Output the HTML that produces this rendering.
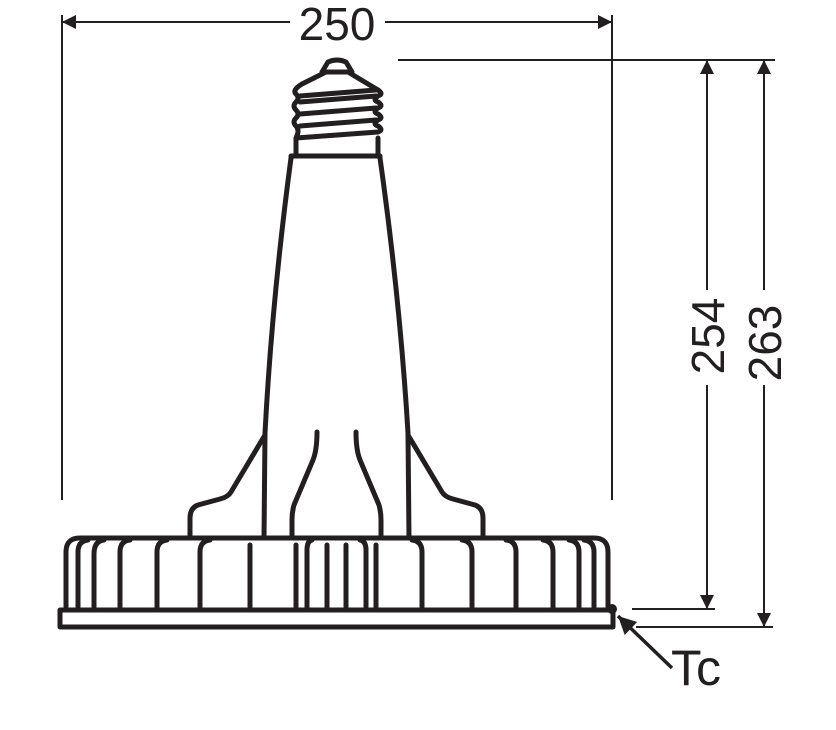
<!DOCTYPE html>
<html><head><style>html,body{margin:0;padding:0;background:#fff}svg{display:block}</style></head>
<body>
<svg width="836" height="730" viewBox="0 0 836 730" xmlns="http://www.w3.org/2000/svg">
<defs>
<marker id="b" viewBox="0 0 10 10" refX="10" refY="5" markerWidth="16" markerHeight="14" markerUnits="userSpaceOnUse" orient="auto-start-reverse"><path d="M0,0 L10,5 L0,10 z" fill="#231f20"/></marker>
<marker id="c" viewBox="0 0 10 10" refX="10" refY="5" markerWidth="22" markerHeight="18" markerUnits="userSpaceOnUse" orient="auto-start-reverse"><path d="M0,0 L10,5 L0,10 z" fill="#231f20"/></marker></defs>
<g stroke="#231f20" fill="none" stroke-width="2">
<line x1="62" y1="15" x2="62" y2="500"/>
<line x1="612" y1="15" x2="612" y2="500"/>
<line x1="62" y1="22" x2="290" y2="22" marker-start="url(#b)"/>
<line x1="385" y1="22" x2="612" y2="22" marker-end="url(#b)"/>
<line x1="398" y1="60" x2="775" y2="60"/>
<line x1="632" y1="609" x2="715" y2="609"/>
<line x1="636" y1="627" x2="773" y2="627"/>
<line x1="707" y1="60" x2="707" y2="290" marker-start="url(#b)"/>
<line x1="707" y1="385" x2="707" y2="609" marker-end="url(#b)"/>
<line x1="764" y1="60" x2="764" y2="290" marker-start="url(#b)"/>
<line x1="764" y1="385" x2="764" y2="627" marker-end="url(#b)"/>
<line x1="672" y1="668" x2="618" y2="616" stroke-width="3.5" marker-end="url(#c)"/>
</g>
<g stroke="#231f20" fill="none" stroke-width="5" stroke-linejoin="round" stroke-linecap="round">
<rect x="60" y="610" width="553" height="17"/>
<path d="M66,610 V552 Q66,538 80,538 H594 Q608,538 608,552 V610"/>
<path d="M78,610 V552 Q78,541 88,540 M94,610 V554 Q94,541 104,540 M120,610 V552 Q120,541 130,540 M157,610 V552 Q157,541 167,540 M200,610 V552 Q200,541 210,540 M250,610 V545 M296,610 V545 M307,610 V550 Q307,541 312,540 M327,610 V545 M346,610 V545 M366,610 V550 Q366,541 360,540 M376,610 V545 M422,610 V552 Q422,541 412,540 M472,610 V552 Q472,541 462,540 M516,610 V552 Q516,541 506,540 M553,610 V552 Q553,541 543,540 M579,610 V552 Q579,541 569,540 M594,610 V552 Q594,541 584,540"/>
<path d="M264,538 L265,433 Q272,300 291,158 M409,538 L408,433 Q400,300 380,158"/>
<path d="M265,435 L231,492 Q228,497 220,499 L198,505 Q190,508 190,518 V538"/>
<path d="M408,435 L442,492 Q445,497 453,499 L475,505 Q483,508 483,518 V538"/>
<path d="M317,432 Q317,450 313,460 L294,505 Q292,512 292,520 V538"/>
<path d="M356,432 Q356,450 360,460 L379,505 Q381,512 381,520 V538"/>
<path d="M291,158 V156 H380 V158 M296,156 V138 M378,156 V138"/>
<path d="M296,138 L378,132 Q384,130 378,126 Q372,124 378,120 Q384,118 378,114 Q372,112 378,108 Q384,106 378,102 Q372,100 378,96 Q384,94 378,90 L348,72 H326 L302,84 Q292,90 296,94 Q300,98 296,102 Q292,106 296,110 Q300,114 296,118 Q292,122 296,126 Q300,130 296,138 Z"/>
<path d="M300,102 L376,96 M300,114 L376,108 M300,126 L376,120 M300,96 L376,90"/>
<path d="M322,72 L328,62 Q337,58 346,62 L352,72"/>
</g>
<circle cx="612" cy="609" r="5" fill="#231f20"/>
<g font-family="Liberation Sans, sans-serif" fill="#231f20" font-size="46">
<text x="337" y="40" text-anchor="middle">250</text>
<text x="671" y="685" font-size="50">Tc</text>
<text transform="translate(724,336) rotate(-90)" text-anchor="middle">254</text>
<text transform="translate(781,343) rotate(-90)" text-anchor="middle">263</text>
</g>
</svg>
</body></html>
